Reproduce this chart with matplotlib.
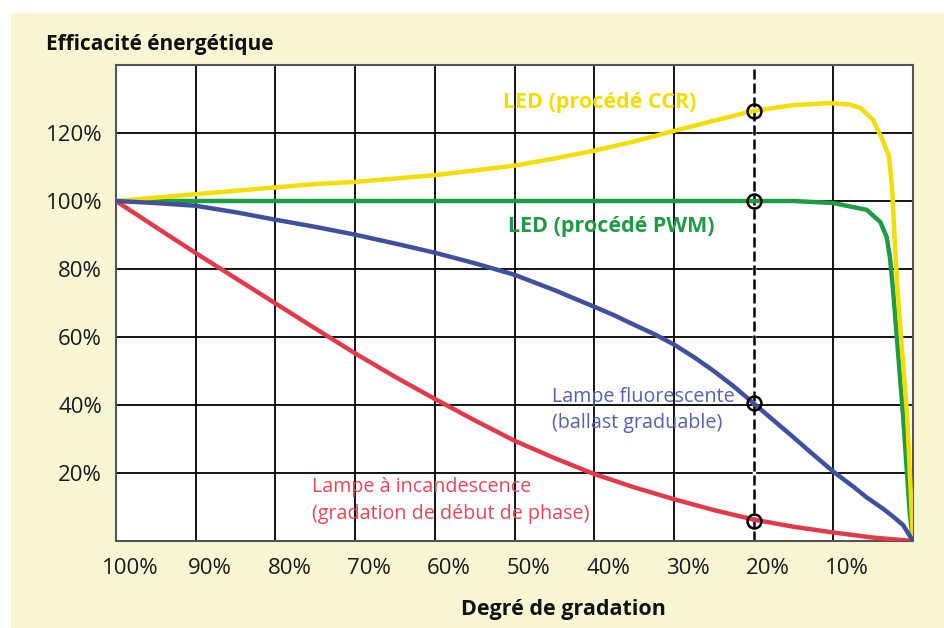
import matplotlib
matplotlib.use('Agg')
import matplotlib.pyplot as plt
from matplotlib.patches import Rectangle
from matplotlib.transforms import ScaledTranslation

plt.rcParams['font.family'] = ['Open Sans', 'DejaVu Sans']

# courbes (degré de gradation %, efficacité %)
dim_ccr = [100, 95, 90, 85, 80, 75, 70, 65, 60, 55, 50, 45, 40, 35, 30, 25, 20, 15,
           10.5, 8, 6.6, 5, 3.8, 3.0, 2.6, 2.3, 2.0, 1.4, 0.75, 0]
eff_ccr = [100, 101, 102, 103, 104, 105, 105.6, 106.6, 107.6, 109, 110.4, 112.5, 114.8,
           117.5, 120.6, 123.6, 126.5, 128.2, 128.8, 128.4, 127.4, 123.8, 117.9, 113,
           103, 88.5, 76, 57, 37.6, 0]

dim_pwm = [100, 30, 20, 15, 10, 5.8, 4.1, 3.3, 2.9, 2.5, 1.25, 0.4, 0]
eff_pwm = [100, 100, 100, 100, 99.4, 97.4, 93.8, 89.4, 83.5, 73.8, 37, 8, 0]

dim_fluo = [100, 95, 90, 85, 80, 75, 70, 65, 60, 55, 50, 45, 40, 37.5, 35, 32.5, 30,
            27.5, 25, 22.5, 20, 17.5, 15, 12.5, 10, 7.5, 5.8, 3.7, 2.5, 1.25, 0]
eff_fluo = [100, 99.4, 98.6, 96.7, 94.5, 92.4, 90.1, 87.5, 84.8, 81.7, 78.3, 73.8, 68.9,
            66.4, 63.6, 60.9, 57.8, 54.1, 50.0, 45.5, 40.5, 35.5, 30.5, 25.4, 20.4,
            16.0, 12.8, 9.4, 7.2, 4.7, 0]

dim_inca = [100, 95, 90, 85, 80, 75, 70, 65, 60, 55, 50, 45, 40, 35, 30, 25, 20, 15,
            10, 5, 0]
eff_inca = [100, 92.3, 84.7, 77.3, 69.9, 62.5, 55.2, 48.3, 41.8, 35.5, 29.5, 24.4, 19.7,
            15.8, 12.3, 9.1, 6.3, 4.2, 2.5, 1.0, 0]

mark_dim = 20
mark_eff = [126.5, 100, 40.5, 6.0]

x_ticks = [100, 90, 80, 70, 60, 50, 40, 30, 20, 10]
x_labels = ['100%', '90%', '80%', '70%', '60%', '50%', '40%', '30%', '20%', '10%']
y_ticks = [20, 40, 60, 80, 100, 120]
y_labels = ['20%', '40%', '60%', '80%', '100%', '120%']

c_yellow = '#F2DE00'
c_green = '#1F9A45'
c_blue = '#40509C'
c_blue_txt = '#5563A8'
c_red = '#E23A4C'
c_red_txt = '#E4485A'
cream = '#F9F6D3'

fig = plt.figure(figsize=(9.44, 6.28), dpi=100)
fig.patches.append(Rectangle((11 / 944, 0), 1, 1 - 13 / 628, transform=fig.transFigure,
                             facecolor=cream, edgecolor='none', zorder=-5))

ax = fig.add_axes([116 / 944, 1 - 541 / 628, 797 / 944, 476 / 628])
ax.set_facecolor('white')
ax.set_xlim(100, 0)
ax.set_ylim(0, 140)

ax.set_xticks(x_ticks)
ax.set_xticklabels(x_labels, fontsize=16)
ax.set_yticks(y_ticks)
ax.set_yticklabels(y_labels, fontsize=16)
ax.tick_params(axis='x', length=0, pad=12, colors='#1a1a1a')
ax.tick_params(axis='y', length=0, pad=10, colors='#1a1a1a')
ax.grid(True, color='black', lw=1.3)
ax.set_axisbelow(True)
for s in ax.spines.values():
    s.set_color('#555555')
    s.set_linewidth(1.5)

# les étiquettes x sont décalées vers la droite
offset = ScaledTranslation(14 / 100, 0, fig.dpi_scale_trans)
for lab in ax.xaxis.get_majorticklabels():
    lab.set_transform(lab.get_transform() + offset)

# ligne pointillée à 20 %
ax.axvline(mark_dim, color='white', lw=2.5, zorder=1)
ax.axvline(mark_dim, color='black', lw=1.8, ls=(0, (4, 1.6)), zorder=2)

kw = dict(lw=3.2, zorder=3, solid_capstyle='round', solid_joinstyle='round')
ax.plot(dim_pwm, eff_pwm, color=c_green, **kw)
ax.plot(dim_ccr, eff_ccr, color=c_yellow, **kw)
ax.plot(dim_inca, eff_inca, color=c_red, **kw)
ax.plot(dim_fluo, eff_fluo, color=c_blue, **kw)

ax.plot([mark_dim] * len(mark_eff), mark_eff, 'o', mfc='none', mec='black', ms=10,
        mew=1.8, zorder=5, clip_on=False)

ax.text(51.4, 127.4, 'LED (procédé CCR)', color=c_yellow, fontsize=15.5,
        fontweight='bold', va='baseline', ha='left', zorder=4)
ax.text(50.8, 90.9, 'LED (procédé PWM)', color=c_green, fontsize=15.5,
        fontweight='bold', va='baseline', ha='left', zorder=4)
ax.text(45.3, 40.9, 'Lampe fluorescente', color=c_blue_txt,
        fontsize=14.2, va='baseline', ha='left', zorder=4)
ax.text(45.3, 33.1, '(ballast graduable)', color=c_blue_txt,
        fontsize=14.2, va='baseline', ha='left', zorder=4)
ax.text(75.4, 14.4, 'Lampe à incandescence', color=c_red_txt,
        fontsize=14.2, va='baseline', ha='left', zorder=4)
ax.text(75.4, 6.6, '(gradation de début de phase)', color=c_red_txt,
        fontsize=14.2, va='baseline', ha='left', zorder=4)

fig.text(46 / 944, 1 - 50 / 628, 'Efficacité énergétique', fontsize=15,
         fontweight='bold', va='baseline', ha='left', color='#111111')
fig.text(563 / 944, 1 - 615 / 628, 'Degré de gradation', fontsize=15.5,
         fontweight='bold', va='baseline', ha='center', color='#111111')

fig.savefig('out.png', dpi=100, facecolor='white')
